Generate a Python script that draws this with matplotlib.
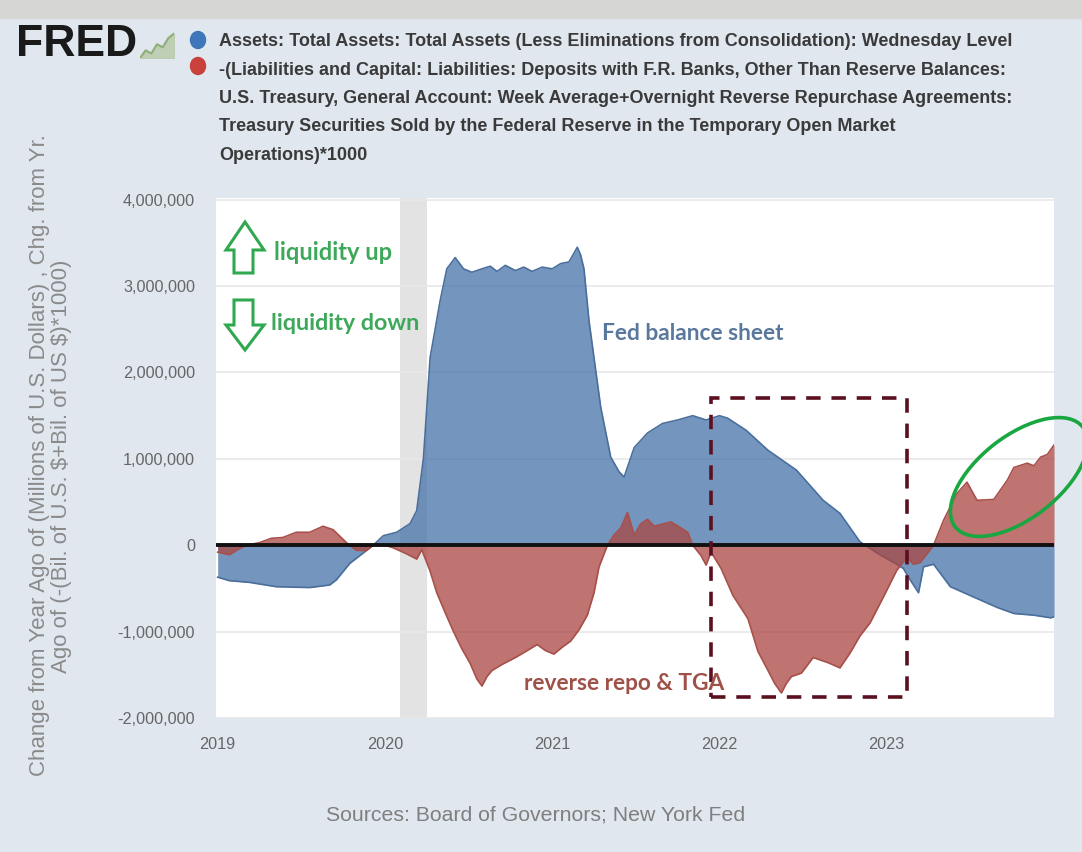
import matplotlib.pyplot as plt
import matplotlib.patches as mpatches
from matplotlib.ticker import FuncFormatter
from matplotlib.transforms import IdentityTransform
import numpy as np

# Fed total assets, change from year ago (trillions -> scaled to millions below)
assetYears = [2019.00, 2019.07, 2019.19, 2019.35, 2019.55, 2019.67, 2019.71, 2019.79, 2019.89, 2019.93,
              2019.99, 2020.07, 2020.15, 2020.19, 2020.23, 2020.27, 2020.33, 2020.37, 2020.42, 2020.47,
              2020.52, 2020.58, 2020.63, 2020.67, 2020.72, 2020.78, 2020.83, 2020.88, 2020.94, 2021.00,
              2021.05, 2021.10, 2021.13, 2021.15, 2021.17, 2021.19, 2021.22, 2021.25, 2021.29, 2021.35,
              2021.40, 2021.43, 2021.49, 2021.57, 2021.66, 2021.75, 2021.84, 2021.92, 2022.00, 2022.05,
              2022.16, 2022.29, 2022.46, 2022.62, 2022.72, 2022.84, 2022.95, 2023.06, 2023.10, 2023.13,
              2023.19, 2023.22, 2023.28, 2023.38, 2023.52, 2023.66, 2023.76, 2023.88, 2023.98, 2024.00]
assetChg = [-0.37, -0.41, -0.43, -0.48, -0.49, -0.46, -0.40, -0.21, -0.06, 0.00,
            0.11, 0.15, 0.25, 0.40, 1.00, 2.17, 2.83, 3.20, 3.33, 3.20,
            3.16, 3.20, 3.23, 3.17, 3.24, 3.18, 3.22, 3.17, 3.22, 3.20,
            3.26, 3.28, 3.38, 3.45, 3.36, 3.20, 2.60, 2.17, 1.60, 1.02,
            0.85, 0.79, 1.13, 1.30, 1.41, 1.45, 1.50, 1.45, 1.50, 1.47,
            1.33, 1.10, 0.87, 0.52, 0.37, 0.04, -0.10, -0.22, -0.27, -0.37,
            -0.55, -0.25, -0.22, -0.48, -0.60, -0.72, -0.79, -0.81, -0.84, -0.83]

# -(TGA + overnight reverse repo), change from year ago
repoYears = [2019.00, 2019.07, 2019.12, 2019.17, 2019.25, 2019.32, 2019.39, 2019.47, 2019.55, 2019.63,
             2019.69, 2019.77, 2019.83, 2019.89, 2019.93, 2020.00, 2020.05, 2020.13, 2020.19, 2020.22,
             2020.27, 2020.31, 2020.36, 2020.41, 2020.46, 2020.51, 2020.55, 2020.58, 2020.61, 2020.64,
             2020.70, 2020.78, 2020.85, 2020.91, 2020.96, 2021.01, 2021.06, 2021.11, 2021.16, 2021.21,
             2021.25, 2021.28, 2021.33, 2021.37, 2021.41, 2021.45, 2021.49, 2021.53, 2021.57, 2021.61,
             2021.65, 2021.71, 2021.77, 2021.81, 2021.84, 2021.89, 2021.92, 2021.95, 2022.01, 2022.08,
             2022.17, 2022.23, 2022.29, 2022.33, 2022.37, 2022.40, 2022.43, 2022.49, 2022.56, 2022.65,
             2022.72, 2022.78, 2022.84, 2022.90, 2022.98, 2023.06, 2023.12, 2023.16, 2023.20, 2023.28,
             2023.34, 2023.42, 2023.48, 2023.54, 2023.64, 2023.72, 2023.76, 2023.84, 2023.88, 2023.92,
             2023.96, 2024.00]
repoChg = [-0.08, -0.11, -0.05, 0.00, 0.03, 0.08, 0.09, 0.15, 0.15, 0.22,
           0.18, 0.03, -0.06, -0.06, 0.00, 0.00, -0.03, -0.10, -0.16, -0.05,
           -0.30, -0.55, -0.78, -1.00, -1.20, -1.37, -1.55, -1.63, -1.52, -1.45,
           -1.38, -1.30, -1.22, -1.15, -1.22, -1.26, -1.18, -1.11, -0.98, -0.81,
           -0.55, -0.25, 0.00, 0.12, 0.20, 0.38, 0.12, 0.25, 0.30, 0.22,
           0.24, 0.27, 0.20, 0.15, 0.00, -0.12, -0.23, -0.08, -0.27, -0.58,
           -0.85, -1.23, -1.45, -1.60, -1.71, -1.60, -1.52, -1.48, -1.30, -1.36,
           -1.42, -1.25, -1.05, -0.90, -0.60, -0.29, -0.14, -0.22, -0.20, 0.00,
           0.29, 0.60, 0.73, 0.52, 0.53, 0.75, 0.90, 0.95, 0.92, 1.02,
           1.05, 1.16]

yearTicks = [2019, 2020, 2021, 2022, 2023]
valueTicks = [-2000000, -1000000, 0, 1000000, 2000000, 3000000, 4000000]
recession = (2020.09, 2020.25)

W, H = 1082, 852
ARIAL = ['Liberation Sans', 'DejaVu Sans']
CALIBRI = ['Lato', 'DejaVu Sans']


def fx(x):
    return x / W


def fy(y):
    return 1 - y / H


fig = plt.figure(figsize=(W / 100, H / 100), dpi=100)
fig.patch.set_facecolor('#e1e7ef')
fig.add_artist(mpatches.Rectangle((0, fy(18)), 1, 18 / H, transform=fig.transFigure,
                                  color='#d6d6d4', zorder=0))

ax = fig.add_axes([fx(216), fy(718), (1054 - 216) / W, (718 - 198) / H])
ax.set_facecolor('white')
for s in ax.spines.values():
    s.set_visible(False)

blueX = np.array(assetYears)
blueY = np.array(assetChg) * 1e6
redX = np.array(repoYears)
redY = np.array(repoChg) * 1e6

ax.axvspan(*recession, color='#e3e3e3', zorder=0.5, lw=0)
ax.fill_between(blueX, 0, blueY, color='#4572a7', alpha=0.75, lw=0, zorder=2)
ax.plot(blueX, blueY, color='#4a6f9c', lw=1.2, zorder=2.1)
ax.fill_between(redX, 0, redY, color='#aa4643', alpha=0.75, lw=0, zorder=3)
ax.plot(redX, redY, color='#a8504a', lw=1.2, zorder=3.1)
ax.axhline(0, color='#111111', lw=2.8, zorder=5)

ax.set_xlim(2018.99, 2024.0)
ax.set_ylim(-2.0e6, 4.02e6)
ax.set_yticks(valueTicks)
ax.yaxis.set_major_formatter(FuncFormatter(lambda v, p: f'{int(v):,}'))
ax.set_xticks(yearTicks)
ax.set_xticklabels([str(y) for y in yearTicks])
ax.grid(axis='y', color='#e8e8e8', lw=1.2, zorder=1)
ax.set_axisbelow(True)
ax.tick_params(axis='both', length=0, colors='#666666', labelsize=11.7)
ax.tick_params(axis='y', pad=15)
ax.tick_params(axis='x', pad=14)
for lab in ax.get_xticklabels() + ax.get_yticklabels():
    lab.set_family(ARIAL)

# dashed box over 2022 and the circled 2023 rebound
ax.add_patch(mpatches.Rectangle((2021.95, -1.76e6), 1.17, 3.47e6, fill=False,
                                ec='#5a1020', lw=2.6, ls=(0, (4, 3)), zorder=6))
fig.add_artist(mpatches.Ellipse((1019, H - 477), 162, 82, angle=38, fill=False,
                                ec='#1aa641', lw=2.6, transform=IdentityTransform(), zorder=10))

# hollow arrows (pixel coordinates of the original chart)
upArrow = [(245, 222), (226, 250), (234, 250), (234, 273), (253, 273), (253, 250), (264, 250)]
downArrow = [(245, 350), (226, 325), (234, 325), (234, 300), (253, 300), (253, 325), (264, 325)]
for pts in (upArrow, downArrow):
    fig.add_artist(mpatches.Polygon([(fx(x), fy(y)) for x, y in pts], closed=True, fc='white',
                                    ec='#2fa84f', lw=2.2, transform=fig.transFigure, zorder=10))

fig.text(fx(274), fy(252), 'liquidity up', family=CALIBRI, weight='bold', fontsize=17,
         color='#3ea85a', va='center')
fig.text(fx(271), fy(324), 'liquidity down', family=CALIBRI, weight='bold', fontsize=16.8,
         color='#3ea85a', va='center')
fig.text(fx(602), fy(334), 'Fed balance sheet', family=CALIBRI, weight='bold', fontsize=16.4,
         color='#5a789c', va='center')
fig.text(fx(524), fy(684), 'reverse repo & TGA', family=CALIBRI, weight='bold', fontsize=16.3,
         color='#9e5149', va='center')

# header: logo and series legend
fig.text(fx(16), fy(45), 'FRED', family=ARIAL, weight='bold', fontsize=32, color='#1a1a1a',
         va='center')
iconX = np.array([0, 1, 2, 3, 4, 5, 6])
iconY = np.array([0, 1, 0.6, 1.8, 1.4, 2.6, 3.2])
icon = fig.add_axes([fx(140), fy(58), 34 / W, 26 / H])
icon.fill_between(iconX, 0, iconY, color='#b7c9a8', alpha=0.8)
icon.plot(iconX, iconY, color='#8fae7a', lw=1.5)
icon.set_xlim(0, 6)
icon.set_ylim(0, 3.4)
icon.axis('off')

fig.add_artist(mpatches.Ellipse((198, H - 40), 15, 17, color='#3f75b9',
                                transform=IdentityTransform(), zorder=10))
fig.add_artist(mpatches.Ellipse((198, H - 66), 15, 17, color='#c8413b',
                                transform=IdentityTransform(), zorder=10))

header = ['Assets: Total Assets: Total Assets (Less Eliminations from Consolidation): Wednesday Level',
          '-(Liabilities and Capital: Liabilities: Deposits with F.R. Banks, Other Than Reserve Balances:',
          'U.S. Treasury, General Account: Week Average+Overnight Reverse Repurchase Agreements:',
          'Treasury Securities Sold by the Federal Reserve in the Temporary Open Market',
          'Operations)*1000']
for i, line in enumerate(header):
    fig.text(fx(219), fy(42 + 28.3 * i), line, family=ARIAL, weight='bold', fontsize=13,
             color='#3a3a3a', va='center')

fig.text(fx(40), fy(455), 'Change from Year Ago of (Millions of U.S. Dollars) , Chg. from Yr.',
         family=ARIAL, fontsize=16, color='#8a8a8a', rotation=90, ha='center', va='center')
fig.text(fx(62), fy(466), r'Ago of (-(Bil. of U.S. \$+Bil. of US \$)*1000)',
         family=ARIAL, fontsize=16, color='#8a8a8a', rotation=90, ha='center', va='center')

fig.text(fx(536), fy(815), 'Sources: Board of Governors; New York Fed', family=ARIAL,
         fontsize=15.3, color='#7f7f7f', ha='center', va='center')

fig.savefig('out.png', dpi=100, facecolor=fig.get_facecolor())
